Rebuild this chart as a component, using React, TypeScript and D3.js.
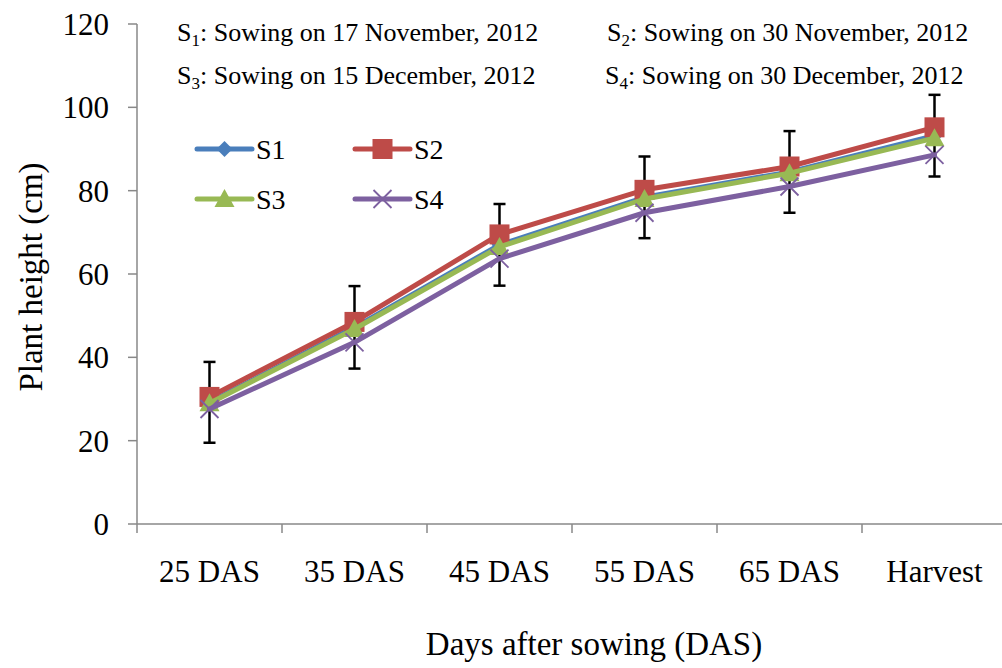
import React from 'react';
import * as d3 from 'd3';

const categories = ['25 DAS', '35 DAS', '45 DAS', '55 DAS', '65 DAS', 'Harvest'];
const s1 = [29.2, 47.2, 67.0, 78.4, 84.5, 93.2];
const s2 = [30.5, 48.5, 69.5, 80.2, 85.8, 95.2];
const s3 = [29.0, 46.8, 66.5, 78.0, 84.2, 92.6];
const s4 = [27.6, 43.6, 63.7, 74.7, 81.0, 88.6];
const s1Error = [9.7, 9.9, 9.8, 9.8, 9.8, 9.8];
const yTicks = [0, 20, 40, 60, 80, 100, 120];
const seriesNames = ['S1', 'S2', 'S3', 'S4'];
const notes = [
  ['1', ': Sowing on 17 November, 2012'],
  ['2', ': Sowing on 30 November, 2012'],
  ['3', ': Sowing on 15 December, 2012'],
  ['4', ': Sowing on 30 December, 2012'],
];

const colors = ['#4A7EBB', '#BE4B48', '#98B954', '#7D60A0'];
const font = '"Liberation Serif", "Times New Roman", serif';

const left = 137;
const bottom = 524;
const top = 24;

function Marker({ kind, x, y, color }: { kind: number; x: number; y: number; color: string }) {
  if (kind === 0) {
    const r = 8;
    return <path d={`M${x},${y - r}L${x + r},${y}L${x},${y + r}L${x - r},${y}Z`} fill={color} />;
  }
  if (kind === 1) {
    const r = 10;
    return <rect x={x - r} y={y - r} width={2 * r} height={2 * r} fill={color} />;
  }
  if (kind === 2) {
    const r = 10;
    return <path d={`M${x},${y - r}L${x + r},${y + r * 0.8}L${x - r},${y + r * 0.8}Z`} fill={color} />;
  }
  const r = 9;
  return (
    <path
      d={`M${x - r},${y - r}L${x + r},${y + r}M${x - r},${y + r}L${x + r},${y - r}`}
      stroke={color}
      strokeWidth={1.8}
    />
  );
}

export default function App() {
  const x = d3.scaleBand<string>().domain(categories).range([left, left + 6 * 145]);
  const y = d3.scaleLinear().domain([0, 120]).range([bottom, top]);
  const cx = (c: string) => (x(c) as number) + x.bandwidth() / 2;

  const allSeries = [s1, s2, s3, s4];
  const lineGen = d3
    .line<number>()
    .x((_, i) => cx(categories[i]))
    .y((d) => y(d));

  const legendPos = [
    { lx: 197, ly: 149 },
    { lx: 355, ly: 149 },
    { lx: 197, ly: 199 },
    { lx: 355, ly: 199 },
  ];
  const notePos = [
    { nx: 177, ny: 41 },
    { nx: 607, ny: 41 },
    { nx: 177, ny: 84 },
    { nx: 605, ny: 84 },
  ];

  return (
    <svg
      width={1002}
      height={668}
      style={{ position: 'absolute', left: 0, top: 0, background: '#fff' }}
      fontFamily={font}
    >
      {/* axes */}
      <line x1={left} x2={1002} y1={bottom} y2={bottom} stroke="#888" strokeWidth={1.5} />
      <line x1={left} x2={left} y1={top} y2={bottom} stroke="#888" strokeWidth={1.5} />
      {yTicks.map((t) => (
        <g key={t}>
          <line x1={left - 9} x2={left} y1={y(t)} y2={y(t)} stroke="#888" strokeWidth={1.5} />
          <text x={109} y={y(t)} dy="0.35em" textAnchor="end" fontSize={31}>
            {t}
          </text>
        </g>
      ))}
      {categories.map((c) => (
        <g key={c}>
          <line x1={x(c)} x2={x(c)} y1={bottom} y2={bottom + 9} stroke="#888" strokeWidth={1.5} />
          <text x={cx(c)} y={582} textAnchor="middle" fontSize={31}>
            {c}
          </text>
        </g>
      ))}

      {/* axis titles */}
      <text x={594} y={655} textAnchor="middle" fontSize={33}>
        Days after sowing (DAS)
      </text>
      <text transform="translate(42,277) rotate(-90)" textAnchor="middle" fontSize={33}>
        Plant height (cm)
      </text>

      {/* series */}
      {allSeries.map((s, k) => (
        <g key={k}>
          {k === 0 &&
            s.map((v, i) => {
              const px = cx(categories[i]);
              return (
                <g key={i} stroke="#000" strokeWidth={2.5}>
                  <line x1={px} x2={px} y1={y(v + s1Error[i])} y2={y(v - s1Error[i])} />
                  <line x1={px - 6} x2={px + 6} y1={y(v + s1Error[i])} y2={y(v + s1Error[i])} />
                  <line x1={px - 6} x2={px + 6} y1={y(v - s1Error[i])} y2={y(v - s1Error[i])} />
                </g>
              );
            })}
          <path
            d={lineGen(s) as string}
            fill="none"
            stroke={colors[k]}
            strokeWidth={5}
            strokeLinejoin="round"
            strokeLinecap="round"
          />
          {s.map((v, i) => (
            <Marker key={i} kind={k} x={cx(categories[i])} y={y(v)} color={colors[k]} />
          ))}
        </g>
      ))}

      {/* legend */}
      {seriesNames.map((n, k) => {
        const { lx, ly } = legendPos[k];
        return (
          <g key={n}>
            <line x1={lx} x2={lx + 55} y1={ly} y2={ly} stroke={colors[k]} strokeWidth={5} strokeLinecap="round" />
            <Marker kind={k} x={lx + 27.5} y={ly} color={colors[k]} />
            <text x={lx + 59} y={ly + 10} fontSize={28}>
              {n}
            </text>
          </g>
        );
      })}

      {/* sowing notes */}
      {notes.map(([sub, rest], k) => (
        <text key={k} x={notePos[k].nx} y={notePos[k].ny} fontSize={26}>
          S
          <tspan fontSize={17} dy={5}>
            {sub}
          </tspan>
          <tspan dy={-5}>{rest}</tspan>
        </text>
      ))}
    </svg>
  );
}
